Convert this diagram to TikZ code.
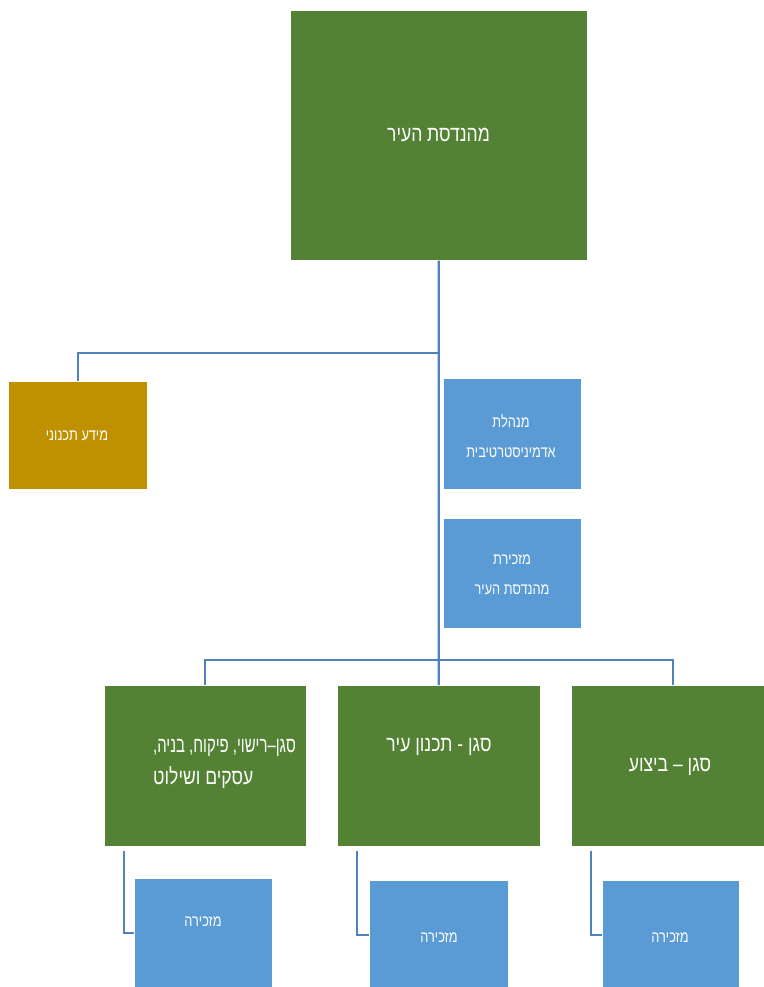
\documentclass[tikz,border=0pt]{standalone}
\usepackage{fontspec}
\usepackage{graphicx}
\TeXXeTstate=1
\newfontfamily\heb[Script=Hebrew,FakeStretch=0.8]{Liberation Sans}
\definecolor{grn}{RGB}{84,130,53}
\definecolor{gld}{RGB}{191,144,0}
\definecolor{blu}{RGB}{91,155,213}
\definecolor{lin}{RGB}{79,129,189}
\begin{document}
\begin{tikzpicture}[x=1bp,y=-1bp,
  box/.style={inner sep=0pt, anchor=north west, draw=white, line width=0.6bp},
  conn/.style={draw=lin, line width=2.2bp},
  big/.style={text=white, font=\heb\fontsize{22}{32}\selectfont, align=center, inner sep=0pt},
  small/.style={text=white, font=\heb\fontsize{16}{30}\selectfont, align=center, inner sep=0pt}]
\useasboundingbox (0,0) rectangle (764,987);
\clip (0,0) rectangle (764,987);
% boxes
\node[box, fill=grn, minimum width=297bp, minimum height=250bp] (top) at (290,10) {};
\node[box, fill=gld, minimum width=139bp, minimum height=108bp] (gold) at (8,381) {};
\node[box, fill=blu, minimum width=138bp, minimum height=111bp] (adm) at (443,378) {};
\node[box, fill=blu, minimum width=138bp, minimum height=110bp] (sec) at (443,518) {};
\node[box, fill=grn, minimum width=202bp, minimum height=161bp] (g1) at (104,685) {};
\node[box, fill=grn, minimum width=203bp, minimum height=161bp] (g2) at (337,685) {};
\node[box, fill=grn, minimum width=204bp, minimum height=161bp] (g3) at (571,685) {};
\node[box, fill=blu, minimum width=138bp, minimum height=110bp] (b1) at (134,878) {};
\node[box, fill=blu, minimum width=139bp, minimum height=110bp] (b2) at (369,880) {};
\node[box, fill=blu, minimum width=137bp, minimum height=110bp] (b3) at (602,880) {};
% connectors
\coordinate (h1) at (438.5,353);
\coordinate (h2) at (438.5,660);
\draw[conn] (top.south) -- (g2.north);
\draw[conn] (h1) -| (gold.north);
\draw[conn] (h2) -| (g1.north);
\draw[conn] (h2) -| (g3.north);
\draw[conn] (g1.south west) ++(20,4) |- (b1.west);
\draw[conn] (g2.south west) ++(20,4) |- (b2.west);
\draw[conn] (g3.south west) ++(20,4) |- (b3.west);
% texts
\node[big] (tt) at (438.5,135) {\beginR מהנדסת העיר\endR};
\node[small] (gt) at (77,436) {\beginR מידע תכנוני\endR};
\node[small] (at) at (511,436) {\beginR מנהלת\endR\\\beginR אדמיניסטרטיבית\endR};
\node[small] (st) at (512,575) {\beginR מזכירת\endR\\\beginR מהנדסת העיר\endR};
\node[big, align=left, anchor=west] (g1t) at (153,764) {\scalebox{0.85}[1]{\beginR סגן–רישוי, פיקוח, בניה,\endR}\\\beginR עסקים ושילוט\endR};
\node[big] (g2t) at (439,747) {\beginR סגן - תכנון עיר\endR};
\node[big] (g3t) at (670,767) {\beginR סגן – ביצוע\endR};
\node[small] (b1t) at (203,922) {\beginR מזכירה\endR};
\node[small] (b2t) at (439,938) {\beginR מזכירה\endR};
\node[small] (b3t) at (670,938) {\beginR מזכירה\endR};
\end{tikzpicture}
\end{document}
